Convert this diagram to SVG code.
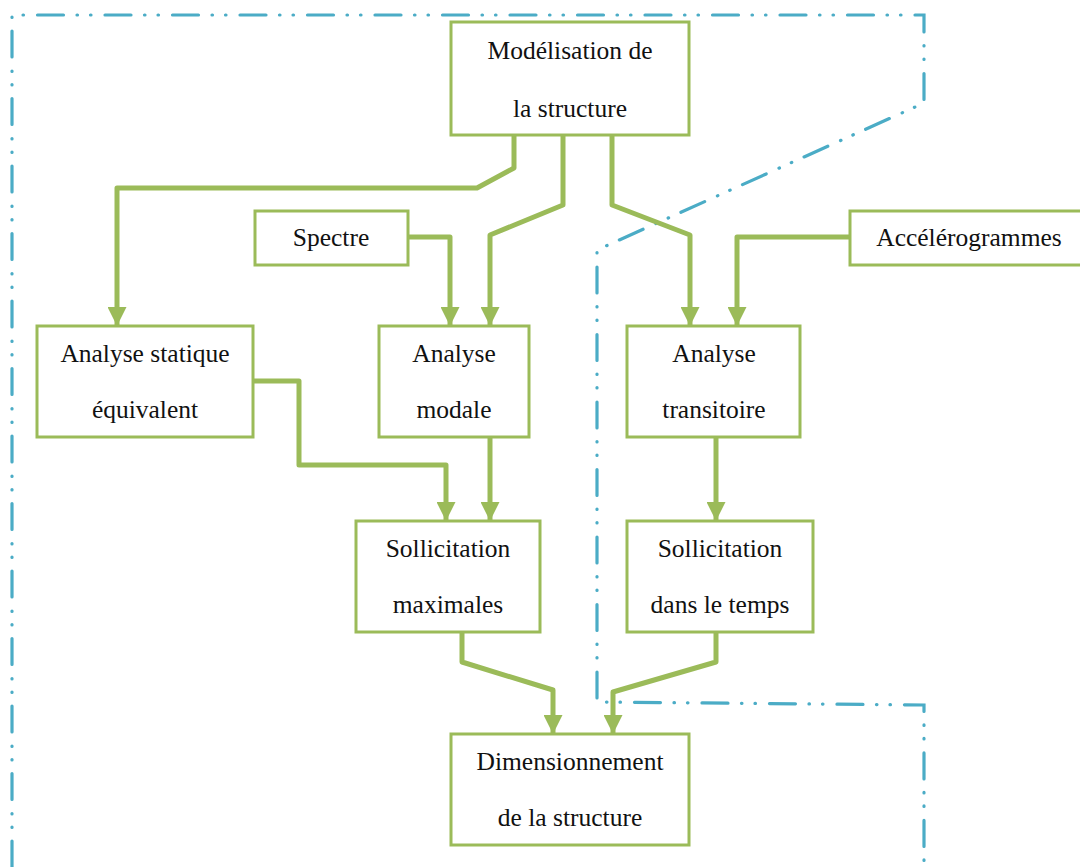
<svg xmlns="http://www.w3.org/2000/svg" width="1080" height="867" viewBox="0 0 1080 867">
<style>
.box{fill:#fff;stroke:#9bbb59;stroke-width:3}
.t{font-family:"Liberation Serif","Times New Roman",serif;font-size:25.5px;fill:#111;text-anchor:middle}
.c{fill:none;stroke:#9bbb59;stroke-width:5;stroke-linejoin:round}
.b{fill:none;stroke:#4bacc6;stroke-width:3.2;stroke-linecap:round;stroke-dasharray:26 13.5 0.5 13 0.5 14}
</style>
<defs>
<marker id="ah" viewBox="0 0 10 10" refX="10" refY="5" markerWidth="3.8" markerHeight="3.8" orient="auto" markerUnits="strokeWidth">
<path d="M0,0 L10,5 L0,10 z" fill="#9bbb59"/>
</marker>
</defs>
<rect width="1080" height="867" fill="#fff"/>
<g id="boundary">
<path class="b" d="M12,867 L12,15 L924,15 L924,103 L597,250 L597,702 L924,705 L924,867"/>
</g>
<g id="connectors">
<path class="c" marker-end="url(#ah)" d="M514,136 L514,168 L477,188 L117,188 L117,326"/>
<path class="c" marker-end="url(#ah)" d="M563,136 L563,205 L490,235 L490,326"/>
<path class="c" marker-end="url(#ah)" d="M612,136 L612,205 L690,235 L690,326"/>
<path class="c" marker-end="url(#ah)" d="M408,237 L450,237 L450,326"/>
<path class="c" marker-end="url(#ah)" d="M850,237 L737,237 L737,326"/>
<path class="c" marker-end="url(#ah)" d="M253,381 L299,381 L299,465 L446,465 L446,521"/>
<path class="c" marker-end="url(#ah)" d="M490,438 L490,521"/>
<path class="c" marker-end="url(#ah)" d="M716,438 L716,521"/>
<path class="c" marker-end="url(#ah)" d="M462,633 L462,662 L553,690 L553,734"/>
<path class="c" marker-end="url(#ah)" d="M716,633 L716,662 L613,692 L613,734"/>
</g>
<g id="modelisation">
<rect class="box" x="451" y="22" width="238" height="113"/>
<text class="t" x="570" y="59">Modélisation de</text>
<text class="t" x="570" y="117">la structure</text>
</g>
<g id="spectre">
<rect class="box" x="255" y="211" width="153" height="54"/>
<text class="t" x="331" y="246">Spectre</text>
</g>
<g id="accelerogrammes">
<rect class="box" x="850" y="211" width="240" height="54"/>
<text class="t" x="969" y="246">Accélérogrammes</text>
</g>
<g id="analyse-statique">
<rect class="box" x="37" y="326" width="216" height="111"/>
<text class="t" x="145" y="362">Analyse statique</text>
<text class="t" x="145" y="418">équivalent</text>
</g>
<g id="analyse-modale">
<rect class="box" x="379" y="326" width="150" height="111"/>
<text class="t" x="454" y="362">Analyse</text>
<text class="t" x="454" y="418">modale</text>
</g>
<g id="analyse-transitoire">
<rect class="box" x="627" y="326" width="173" height="111"/>
<text class="t" x="714" y="362">Analyse</text>
<text class="t" x="714" y="418">transitoire</text>
</g>
<g id="sollicitation-max">
<rect class="box" x="356" y="521" width="184" height="111"/>
<text class="t" x="448" y="557">Sollicitation</text>
<text class="t" x="448" y="613">maximales</text>
</g>
<g id="sollicitation-temps">
<rect class="box" x="627" y="521" width="186" height="111"/>
<text class="t" x="720" y="557">Sollicitation</text>
<text class="t" x="720" y="613">dans le temps</text>
</g>
<g id="dimensionnement">
<rect class="box" x="451" y="734" width="238" height="111"/>
<text class="t" x="570" y="770">Dimensionnement</text>
<text class="t" x="570" y="826">de la structure</text>
</g>
</svg>
